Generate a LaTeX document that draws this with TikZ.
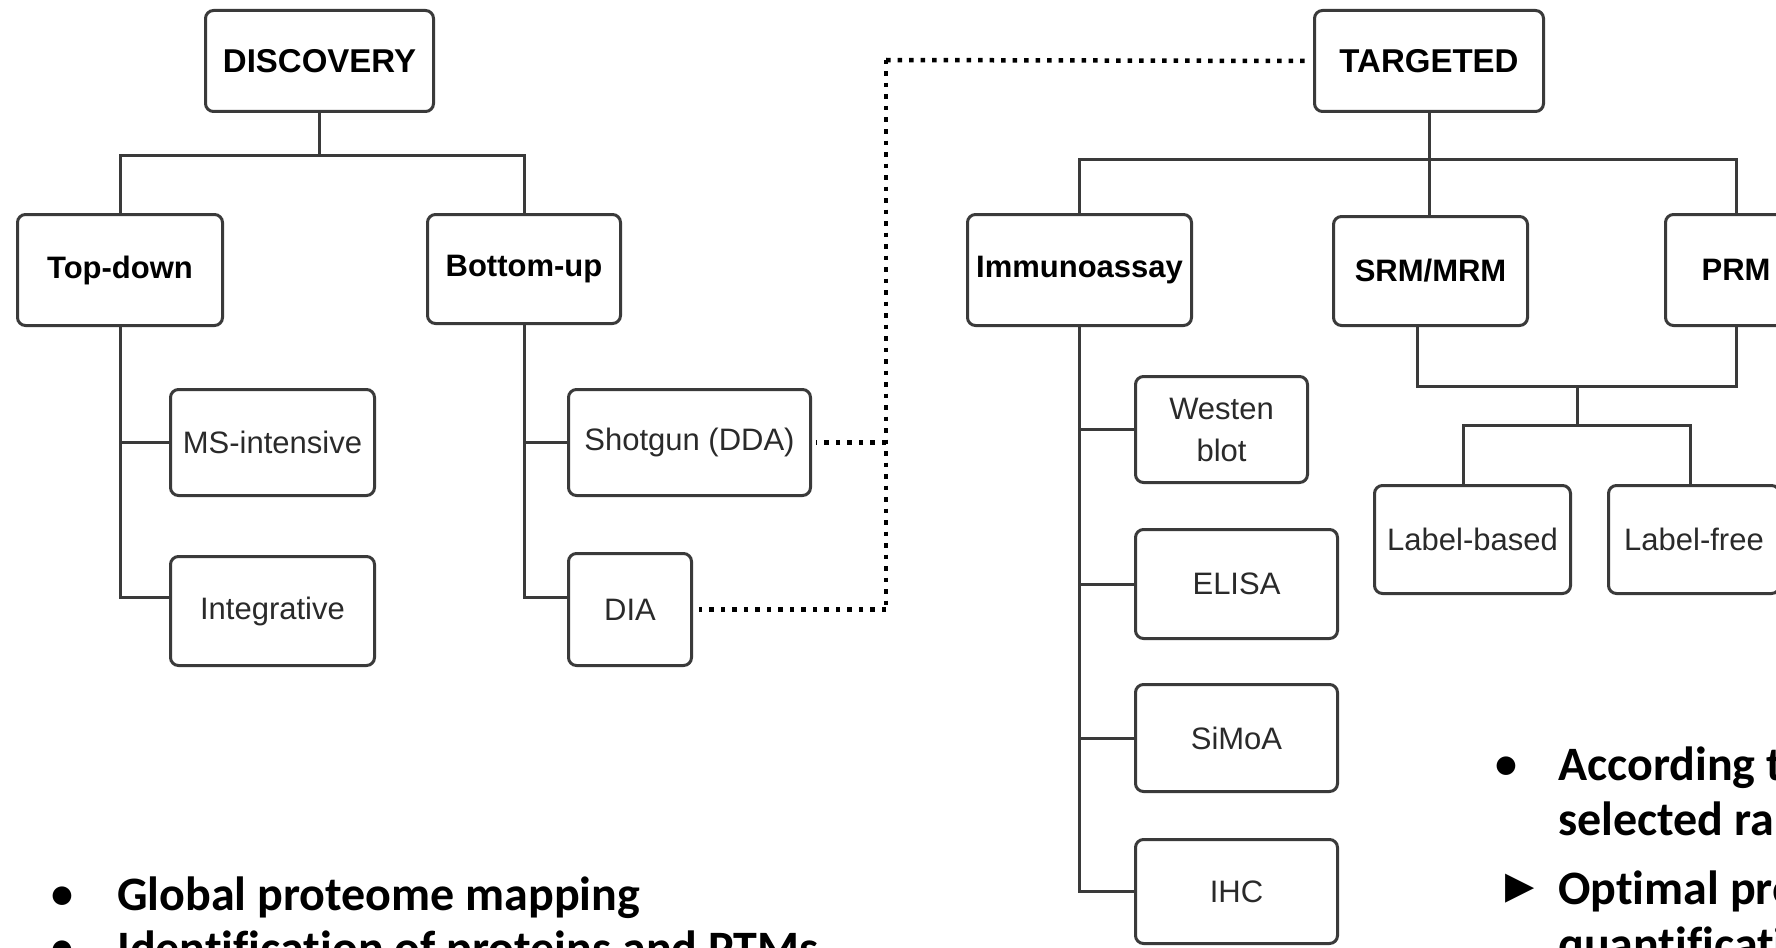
\documentclass[tikz,border=0pt]{standalone}
\usepackage{fontspec}
\setmainfont{Liberation Sans}
\newfontfamily\calib[Ligatures=NoCommon]{Carlito}
\newfontfamily\djv{DejaVu Sans}
\usetikzlibrary{calc}
\definecolor{lc}{HTML}{3A3A3A}
\definecolor{tc}{HTML}{2A2A2A}
\tikzset{
  box/.style={draw=lc, line width=3pt, rounded corners=8pt, fill=white,
    inner sep=0pt, align=center, text=tc, font=\fontsize{31}{42}\selectfont},
  head/.style={box, text=black, font=\bfseries\fontsize{31}{37}\selectfont},
  toph/.style={box, text=black, font=\bfseries\fontsize{33}{40}\selectfont},
  wire/.style={draw=lc, line width=3pt},
  dots/.style={draw=black, line width=4.5pt, dash pattern=on 4.5pt off 7pt},
  bul/.style={inner sep=0pt, anchor=base west, text=black,
    font=\calib\bfseries\fontsize{48}{58}\selectfont},
  dotmark/.style={inner sep=0pt, anchor=base, text=black,
    font=\calib\bfseries\fontsize{44}{52}\selectfont},
}
\begin{document}
\begin{tikzpicture}[x=1pt,y=-1pt]
\useasboundingbox (0,0) rectangle (1776,947);
\clip (0,0) rectangle (1776,947);

% top level
\node[toph, minimum width=228pt, minimum height=101pt] (disc) at (319.5,61) {DISCOVERY};
\node[toph, minimum width=229pt, minimum height=101pt] (targ) at (1429,61) {TARGETED};

% second level
\node[head, minimum width=205pt, minimum height=111pt] (td) at (120,270) {Top-down};
\node[head, minimum width=193pt, minimum height=109pt] (bu) at (524,269) {Bottom-up};
\node[head, minimum width=224pt, minimum height=111pt] (imm) at (1079.5,270) {Immunoassay};
\node[head, minimum width=194pt, minimum height=109pt] (srm) at (1430.5,271) {SRM/MRM};
\node[head, minimum width=141pt, minimum height=111pt] (prm) at (1736,270) {PRM};

% discovery leaves
\node[box, minimum width=204pt, minimum height=106pt] (ms) at (272.5,442.5) {MS-intensive};
\node[box, minimum width=204pt, minimum height=109pt] (integ) at (272.5,611) {Integrative};
\node[box, minimum width=242pt, minimum height=106pt] (shot) at (689.5,442.5) {Shotgun (DDA)};
\node[box, minimum width=123pt, minimum height=112pt] (dia) at (630,609.5) {DIA};

% targeted leaves
\node[box, minimum width=172pt, minimum height=106pt] (west) at (1221.5,429.5) {Westen\\blot};
\node[box, minimum width=202pt, minimum height=109pt] (elisa) at (1236.5,584) {ELISA};
\node[box, minimum width=202pt, minimum height=107pt] (simoa) at (1236.5,738) {SiMoA};
\node[box, minimum width=202pt, minimum height=104pt] (ihc) at (1236.5,891.5) {IHC};
\node[box, minimum width=196pt, minimum height=108pt] (lb) at (1472.5,539.5) {Label-based};
\node[box, minimum width=171pt, minimum height=108pt] (lf) at (1694,539.5) {Label-free};

% junction points
\coordinate (dj) at (319.5,155);
\coordinate (tj) at (1429,159);
\coordinate (sj) at (1577,386);
\coordinate (lj) at (1577,425);
\coordinate (dcorner) at (886,60);

% discovery tree
\draw[wire] (disc.south) -- (dj);
\draw[wire] (td.north) |- (bu.north |- dj) -- (bu.north);
\draw[wire] (td.south) |- (ms.west);
\draw[wire] (td.south) |- ([yshift=14pt]integ.west);
\draw[wire] (bu.south) |- (shot.west);
\draw[wire] (bu.south) |- ([yshift=12.5pt]dia.west);

% targeted tree
\draw[wire] (targ.south) -- (targ.south |- srm.north);
\draw[wire] (imm.north) |- (prm.north |- tj) -- (prm.north);
\draw[wire] (imm.south) |- (west.west);
\draw[wire] (imm.south) |- (elisa.west);
\draw[wire] (imm.south) |- (simoa.west);
\draw[wire] (imm.south) |- (ihc.west);
\draw[wire] ([xshift=-13pt]srm.south) |- (prm.south |- sj) -- (prm.south);
\draw[wire] (sj) -- (lj);
\draw[wire] ([xshift=-9pt]lb.north) |- (lj) -| ([xshift=-4pt]lf.north);

% dotted links between DDA/DIA and the targeted approaches
\draw[dots, shorten >=6pt] (dcorner) -- (targ.west);
\draw[dots] (dcorner) -- (dcorner |- dia.east);
\draw[dots, shorten >=6pt] (dcorner |- dia.east) -- (dia.east);
\draw[dots, shorten >=4pt] (dcorner |- shot.east) -- (shot.east);

% bullet notes
\node[bul] (g1) at (117,910) {Global proteome mapping};
\node[bul] (g2) at (117,964) {Identification of proteins and PTMs};
\node[dotmark] (gb1) at (62,908) {•};
\node[dotmark] (gb2) at (62,962) {•};

\node[bul] (a1) at (1558,780) {According t};
\node[bul] (a2) at (1558,835) {selected ra};
\node[bul] (a3) at (1558,904) {Optimal pro};
\node[bul] (a4) at (1558,960) {quantificati};
\node[dotmark] (ab1) at (1506,778) {•};
\node[inner sep=0pt, text=black, font=\djv\fontsize{38}{44}\selectfont] (ab2) at (1520,889) {▶};
\end{tikzpicture}
\end{document}
